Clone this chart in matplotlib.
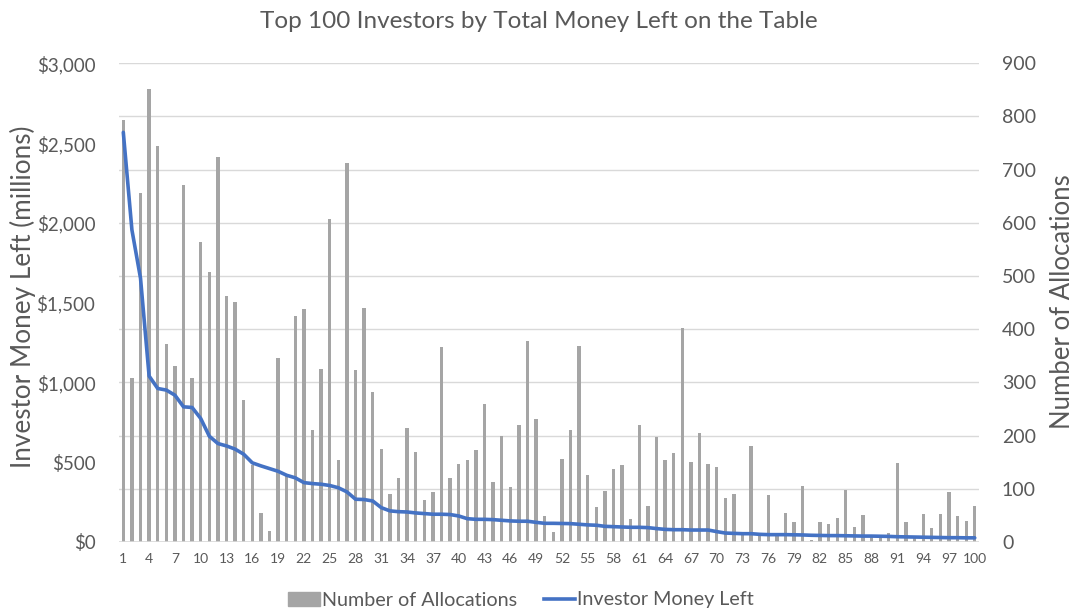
import matplotlib
matplotlib.use("Agg")
import matplotlib.pyplot as plt
from matplotlib.ticker import FuncFormatter, MultipleLocator
from matplotlib.patches import Patch
from matplotlib.lines import Line2D

plt.rcParams["font.family"] = ["Lato", "DejaVu Sans"]

# investor rank 1..100
ranks = list(range(1, 101))

# number of allocations per investor (right axis)
allocations = [
    793, 308, 656, 852, 745, 373, 331, 672, 309, 564,
    508, 724, 463, 451, 267, 145, 55, 20, 346, 125,
    425, 438, 211, 325, 608, 154, 712, 323, 440, 282,
    174, 90, 120, 215, 169, 78, 94, 367, 120, 147,
    154, 173, 259, 112, 200, 103, 220, 377, 232, 48,
    18, 156, 210, 368, 126, 65, 96, 137, 144, 43,
    220, 67, 198, 154, 167, 402, 151, 204, 147, 141,
    82, 90, 15, 181, 13, 88, 12, 55, 38, 105,
    3, 37, 33, 46, 97, 29, 50, 14, 12, 16,
    149, 38, 11, 52, 26, 53, 94, 48, 40, 68,
]

# investor money left on the table, millions of $ (left axis)
money_left = [
    2567, 1956, 1653, 1040, 962, 952, 920, 847, 843, 774,
    663, 617, 602, 582, 550, 496, 477, 460, 443, 418,
    402, 372, 366, 362, 354, 340, 314, 268, 266, 257,
    215, 195, 190, 188, 182, 178, 174, 174, 172, 163,
    146, 142, 142, 140, 136, 132, 130, 130, 123, 117,
    117, 116, 115, 111, 107, 105, 98, 96, 94, 92,
    92, 90, 84, 79, 77, 77, 75, 75, 75, 65,
    56, 54, 52, 52, 48, 46, 46, 46, 45, 44,
    42, 41, 40, 40, 39, 38, 37, 37, 36, 35,
    33, 32, 31, 30, 29, 28, 27, 27, 26, 26,
]

TEXT = "#595959"
BAR = "#A5A5A5"
LINE = "#4472C4"
GRID = "#D9D9D9"


def main():
    fig = plt.figure(figsize=(10.78, 6.12), dpi=100)
    ax = fig.add_axes([0.1104, 0.1144, 0.7978, 0.7822])
    ax2 = ax.twinx()

    # bars on right axis, drawn underneath the line
    ax2.bar(ranks, allocations, width=0.38, color=BAR, zorder=1)
    ax2.set_ylim(0, 900)
    ax2.yaxis.set_major_locator(MultipleLocator(100))

    ax.set_zorder(ax2.get_zorder() + 1)
    ax.patch.set_visible(False)
    ax.plot(ranks, money_left, color=LINE, lw=2.6, zorder=3,
            solid_capstyle="round")
    ax.set_ylim(0, 3000)
    ax.yaxis.set_major_locator(MultipleLocator(500))
    ax.yaxis.set_major_formatter(FuncFormatter(lambda v, p: f"${v:,.0f}"))
    ax.set_xlim(0.5, 100.5)
    ax.set_xticks(ranks[::3])

    # gridlines belong to the back axes
    ax2.grid(axis="y", color=GRID, lw=1.0, zorder=0)
    ax2.set_axisbelow(True)

    for a in (ax, ax2):
        for s in a.spines.values():
            s.set_visible(False)
        a.tick_params(length=0, colors=TEXT)
    ax.tick_params(axis="y", labelsize=13.5, pad=17)
    ax2.tick_params(axis="y", labelsize=14, pad=16.5)
    ax.tick_params(axis="x", labelsize=10, pad=8)
    ax.axhline(0, color=GRID, lw=1.2, zorder=0)

    fig.text(23 / 1078, 0.515, "Investor Money Left (millions)",
             rotation=90, ha="center", va="center", fontsize=18.8,
             color=TEXT)
    fig.text(1063 / 1078, 0.507, "Number of Allocations",
             rotation=90, ha="center", va="center", fontsize=18.5,
             color=TEXT)

    fig.text(0.5, 1 - 22 / 612,
             "Top 100 Investors by Total Money Left on the Table",
             ha="center", va="center", fontsize=17.5, color=TEXT)

    handles = [
        Patch(color=BAR),
        Line2D([0], [0], color=LINE, lw=2.6),
    ]
    fig.legend(handles, ["Number of Allocations", "Investor Money Left"],
               loc="center", bbox_to_anchor=(521 / 1078, 1 - 600 / 612),
               ncol=2, frameon=False, fontsize=14.2, labelcolor=TEXT,
               handlelength=1.6, handletextpad=0.1, columnspacing=1.35,
               borderpad=0)

    fig.savefig("out.png", dpi=100)


if __name__ == "__main__":
    main()
